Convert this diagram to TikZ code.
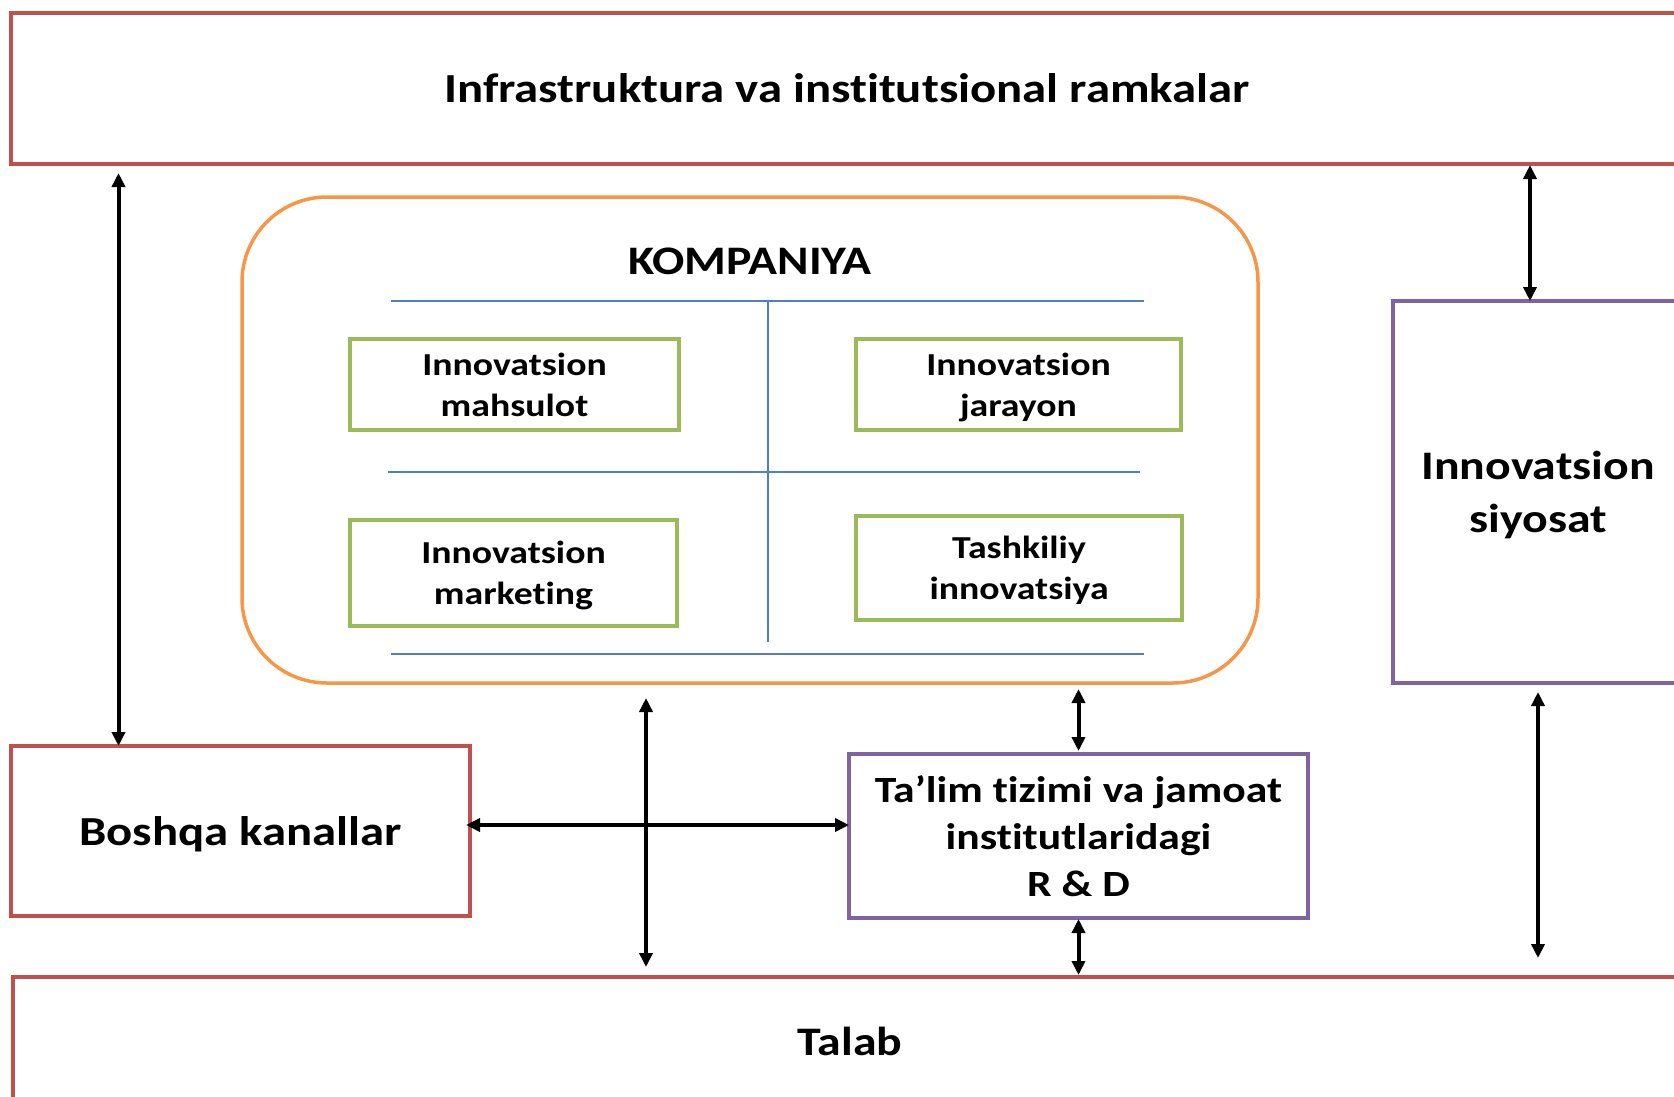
\documentclass[tikz,border=0pt]{standalone}
\usepackage{fontspec}
\setmainfont{Carlito}[FakeStretch=1.18,Ligatures=CommonOff]
\usetikzlibrary{arrows.meta,calc}
\definecolor{cred}{HTML}{C0504D}
\definecolor{corange}{HTML}{F79646}
\definecolor{cgreen}{HTML}{9BBB59}
\definecolor{cpurple}{HTML}{8064A2}
\definecolor{cblue}{HTML}{4F81BD}
\tikzset{
  box/.style={draw, inner sep=0pt, outer sep=0pt, anchor=north west, align=center, text depth=0pt},
  redbox/.style={box, draw=cred, line width=3.5pt},
  purplebox/.style={box, draw=cpurple, line width=3.5pt},
  greenbox/.style={box, draw=cgreen, line width=4pt, font=\fontsize{32}{41}\selectfont\bfseries},
  bigtext/.style={font=\fontsize{40.5}{53}\selectfont\bfseries},
  arr/.style={line width=4pt, {Triangle[length=14pt,width=13pt]}-{Triangle[length=14pt,width=13pt]}},
  sep/.style={draw=cblue, line width=1.5pt}
}
\begin{document}
\begin{tikzpicture}[x=1pt,y=-1pt]
\useasboundingbox (0,0) rectangle (1674,1096);
% outer boxes
\node[redbox, font=\fontsize{41.3}{53}\selectfont\bfseries, minimum width=1672pt, minimum height=151pt] (top) at (11,13) {Infrastruktura va institutsional ramkalar};
\node[redbox, bigtext, minimum width=1674pt, minimum height=128pt] (talab) at (13,977) {Talab};
\node[redbox, font=\fontsize{41.3}{53}\selectfont\bfseries, minimum width=459pt, minimum height=170pt] (boshqa) at (11,746) {Boshqa kanallar};
\node[purplebox, bigtext, minimum width=290pt, minimum height=382pt] (siyosat) at (1393,301) {Innovatsion\\siyosat};
\node[purplebox, font=\fontsize{37}{47}\selectfont\bfseries, minimum width=459pt, minimum height=164pt] (talim) at (849,754) {Ta’lim tizimi va jamoat\\institutlaridagi\\R \& D};
% company
\node[box, draw=corange, line width=3.5pt, rounded corners=85pt, minimum width=1016pt, minimum height=486pt] (komp) at (242,197) {};
\node[bigtext] (kompt) at (750,261) {KOMPANIYA};
\draw[sep] (391,301) -- (1144,301);
\draw[sep] (388,472) -- (1140,472);
\draw[sep] (391,654) -- (1144,654);
\draw[sep] (768,302) -- (768,642);
\node[greenbox, minimum width=329pt, minimum height=91pt] (mahsulot) at (350,339) {Innovatsion\\mahsulot};
\node[greenbox, minimum width=325pt, minimum height=91pt] (jarayon) at (856,339) {Innovatsion\\jarayon};
\node[greenbox, minimum width=327pt, minimum height=106pt] (marketing) at (350,520) {Innovatsion\\marketing};
\node[greenbox, minimum width=326pt, minimum height=104pt] (tashkiliy) at (856,516) {Tashkiliy\\innovatsiya};
% arrows
\coordinate (a1) at (118.5,173);
\draw[arr] (a1) -- (a1 |- boshqa.north);
\coordinate (a2) at (1530,165);
\draw[arr] (a2) -- (a2 |- siyosat.north);
\draw[arr] ($(siyosat.south)+(0,9)$) -- ($(siyosat.south |- talab.north)+(0,-19)$);
\coordinate (a4) at (646,698);
\draw[arr] (a4) -- ($(a4 |- talab.north)+(0,-10)$);
\coordinate (a5) at (466,825);
\draw[arr] (a5) -- (a5 -| talim.west);
\draw[arr] ($(talim.north)+(0,-65)$) -- ($(talim.north)+(0,-3)$);
\draw[arr] ($(talim.south)+(0,1)$) -- ($(talim.south |- talab.north)+(0,-2)$);
\end{tikzpicture}
\end{document}
